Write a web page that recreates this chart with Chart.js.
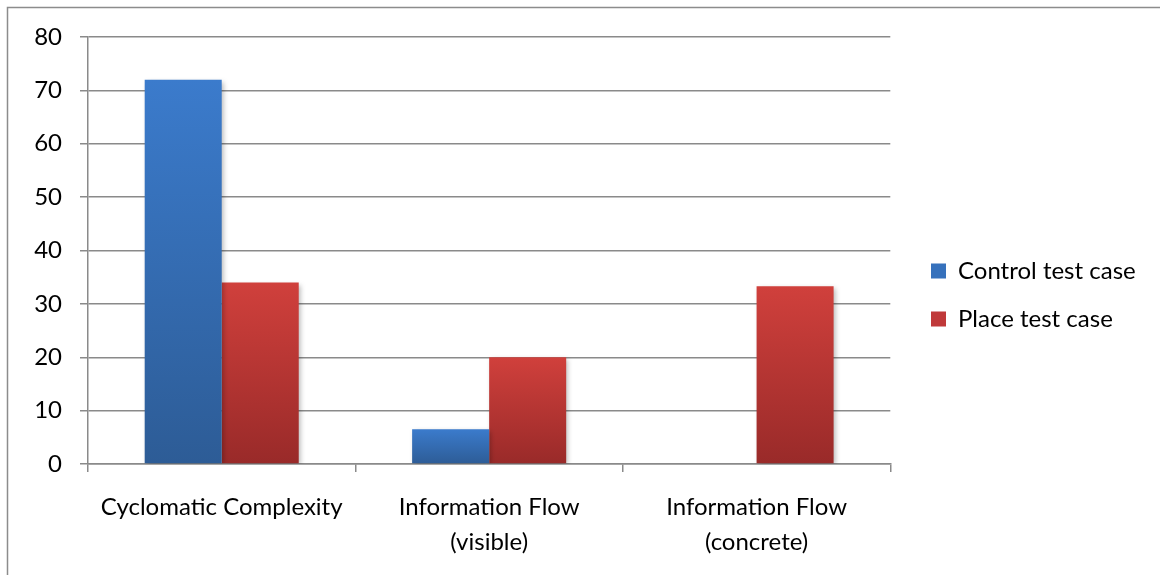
<!DOCTYPE html>
<html>
<head>
<meta charset="utf-8">
<script src="https://cdn.jsdelivr.net/npm/chart.js@4/dist/chart.umd.min.js"></script>
<style>
  html, body { margin: 0; padding: 0; background: #fff; }
  #wrap { position: relative; width: 1160px; height: 575px; }
  canvas { display: block; }
</style>
</head>
<body>
<div id="wrap"><canvas id="c" width="1160" height="575"></canvas></div>
<script>
// Metric categories (multi-line labels are arrays)
const categories = [
  'Cyclomatic Complexity',
  ['Information Flow', '(visible)'],
  ['Information Flow', '(concrete)']
];
const seriesNames = ['Control test case', 'Place test case'];
const controlValues = [72, 6.5, 0];
const placeValues = [34, 20, 33.3];
const yTicks = { min: 0, max: 80, step: 10 };

const FONT = { family: 'Lato', size: 24 };
const GRID = '#8a8a8a';

// Vertical gradient spanning each bar from its top to the baseline
function barGradient(top, bottom) {
  return function (ctx) {
    const chart = ctx.chart;
    const y = chart.scales && chart.scales.y;
    if (!chart.chartArea || !y || ctx.parsed === undefined) return top;
    const v = ctx.parsed.y;
    const y0 = y.getPixelForValue(0);
    const y1 = y.getPixelForValue(v);
    if (!isFinite(y1) || Math.abs(y0 - y1) < 1) return top;
    const g = chart.ctx.createLinearGradient(0, y1, 0, y0);
    g.addColorStop(0, top);
    g.addColorStop(1, bottom);
    return g;
  };
}

// Outer frame and soft shadow behind the bars
const framePlugin = {
  id: 'frame',
  beforeDraw(chart) {
    const c = chart.ctx;
    c.save();
    c.strokeStyle = '#8c8c8c';
    c.lineWidth = 1.5;
    c.beginPath();
    c.moveTo(7.5, 580);
    c.lineTo(7.5, 7.5);
    c.lineTo(1165, 7.5);
    c.stroke();
    c.restore();
  },
  beforeDatasetsDraw(chart) {
    const c = chart.ctx;
    c.save();
    c.shadowColor = 'rgba(0,0,0,0.28)';
    c.shadowBlur = 5;
    c.shadowOffsetX = 2;
    c.shadowOffsetY = 2;
  },
  afterDatasetsDraw(chart) {
    chart.ctx.restore();
  },
  afterLayout(chart) {
    // place the legend block to the right of the plot
    const lg = chart.legend;
    if (!lg) return;
    const pad = lg.options.labels.padding;
    const w = lg.width, h = lg.height;
    lg.left = 931 - pad;
    lg.right = lg.left + w;
    lg.top = 259 - pad;
    lg.bottom = lg.top + h;
  }
};

new Chart(document.getElementById('c'), {
  type: 'bar',
  data: {
    labels: categories,
    datasets: [
      {
        label: seriesNames[0],
        data: controlValues,
        backgroundColor: barGradient('#3b7bcc', '#2d5c96'),
        legendColor: '#3671bc'
      },
      {
        label: seriesNames[1],
        data: placeValues,
        backgroundColor: barGradient('#d0403c', '#992a29'),
        legendColor: '#c0393a'
      }
    ]
  },
  options: {
    responsive: false,
    animation: false,
    layout: { padding: { left: 0, top: 37, right: 31, bottom: 0 } },
    datasets: { bar: { categoryPercentage: 0.576, barPercentage: 1.0, borderWidth: 0 } },
    plugins: {
      tooltip: { enabled: false },
      legend: {
        position: 'right',
        align: 'start',
        labels: {
          font: FONT,
          color: '#000',
          boxWidth: 15,
          boxHeight: 15,
          padding: 24,
          generateLabels(chart) {
            return chart.data.datasets.map((ds, i) => ({
              text: ds.label,
              fillStyle: ds.legendColor,
              strokeStyle: ds.legendColor,
              lineWidth: 0,
              hidden: false,
              datasetIndex: i,
              fontColor: '#000'
            }));
          }
        }
      }
    },
    scales: {
      x: {
        offset: true,
        grid: {
          display: true,
          drawOnChartArea: false,
          drawTicks: true,
          tickLength: 8,
          offset: true,
          color: GRID,
          lineWidth: 1.5
        },
        border: { display: true, color: GRID, width: 1.5 },
        ticks: {
          font: { family: FONT.family, size: FONT.size, lineHeight: 1.45 },
          color: '#000',
          padding: 18,
          autoSkip: false,
          maxRotation: 0,
          minRotation: 0
        },
        afterFit(scale) { scale.height = 111; }
      },
      y: {
        min: yTicks.min,
        max: yTicks.max,
        grid: {
          color: GRID,
          lineWidth: 1.5,
          drawTicks: true,
          tickLength: 8
        },
        border: { display: true, color: GRID, width: 1.5 },
        ticks: {
          stepSize: yTicks.step,
          font: FONT,
          color: '#000',
          padding: 18
        },
        afterFit(scale) { scale.width = 88; }
      }
    }
  },
  plugins: [framePlugin]
});
</script>
</body>
</html>
